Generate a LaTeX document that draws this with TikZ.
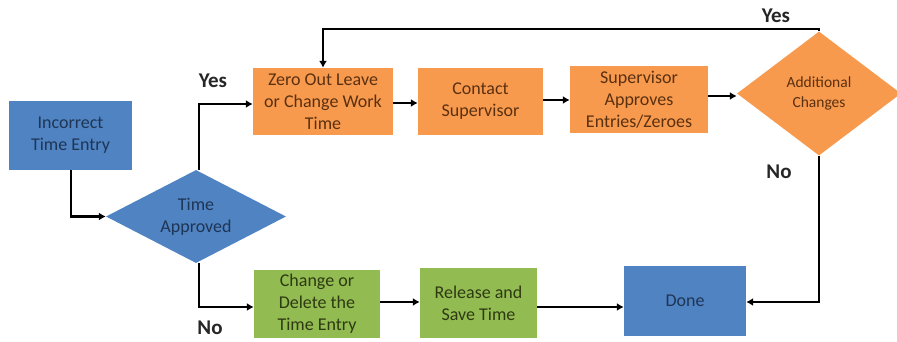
\documentclass[tikz,border=0pt]{standalone}
\usepackage{fontspec}
\setmainfont{Carlito}
\usetikzlibrary{arrows.meta,positioning,shapes.geometric}
\definecolor{flowblue}{HTML}{5083C2}
\definecolor{floworange}{HTML}{F89A4E}
\definecolor{flowgreen}{HTML}{92BB52}
\definecolor{txtblue}{HTML}{1E3555}
\definecolor{txtorange}{HTML}{5A3010}
\definecolor{txtgreen}{HTML}{2E3A12}
\tikzset{
  fc/box/.style={rectangle, inner sep=2pt, align=center, font=\fontsize{18}{22}\selectfont},
  fc/blue/.style={fc/box, fill=flowblue, text=txtblue},
  fc/orange/.style={fc/box, fill=floworange, text=txtorange},
  fc/green/.style={fc/box, fill=flowgreen, text=txtgreen},
  fc/decision/.style={diamond, inner sep=0pt, align=center},
  fc/line/.style={line width=2.8pt, -{Latex[length=7pt,width=8pt]}},
  fc/label/.style={font=\bfseries\fontsize{21}{24}\selectfont, text=black!85}
}
\begin{document}
\begin{tikzpicture}[x=1pt, y=-1pt]
  \useasboundingbox (0,0) rectangle (897,341);

  % Start and first decision
  \node[fc/blue, minimum width=123pt, minimum height=69pt] (entry) at (70.5,135.5) {Incorrect\\Time Entry};
  \node[fc/decision, aspect=2.2, fill=flowblue, text=txtblue, minimum width=180pt, minimum height=93pt,
        font=\fontsize{18}{22}\selectfont] (appr) at (196,216.5) {Time\\Approved};

  % Yes branch (orange)
  \node[fc/orange, minimum width=140pt, minimum height=67pt] (zero) at (323,101.5) {Zero Out Leave\\or Change Work\\Time};
  \node[fc/orange, minimum width=125pt, minimum height=67pt] (contact) at (480.5,101.5) {Contact\\Supervisor};
  \node[fc/orange, minimum width=138pt, minimum height=67pt] (sup) at (639,99.5) {Supervisor\\Approves\\Entries/Zeroes};
  \node[fc/decision, aspect=1.4, fill=floworange, text=txtorange, minimum width=164pt, minimum height=124pt,
        font=\fontsize{15.5}{20}\selectfont] (addl) at (819,93.5) {Additional\\Changes};

  % No branch (green)
  \node[fc/green, minimum width=126pt, minimum height=68pt] (chg) at (317,304) {Change or\\Delete the\\Time Entry};
  \node[fc/green, minimum width=117pt, minimum height=70pt] (rel) at (478.5,303) {Release and\\Save Time};
  \node[fc/blue, minimum width=122pt, minimum height=70pt] (done) at (685,301) {Done};

  \coordinate (startbend) at (71,216.5);
  \coordinate (yesbend) at (199,104);
  \coordinate (nobend) at (199,307);
  \coordinate (loopR) at (819,29);
  \coordinate (loopL) at (323,29);
  \coordinate (endbend) at (819,302);

  \draw[fc/line] (entry.south -| startbend) -- (startbend) -- (appr.west);
  \draw[fc/line] (appr.north -| yesbend) -- (yesbend) -- (yesbend -| zero.west);
  \draw[fc/line] (appr.south -| nobend) -- (nobend) -- (nobend -| chg.west);
  \draw[fc/line] (zero.east |- 0,103) -- (contact.west |- 0,103);
  \draw[fc/line] (contact.east |- 0,100) -- (sup.west |- 0,100);
  \draw[fc/line] (sup.east |- 0,96) -- (addl.west |- 0,96);
  \draw[fc/line] (addl.north) -- (loopR) -- (loopL) -- (zero.north);
  \draw[fc/line] (addl.south) -- (endbend) -- (endbend -| done.east);
  \draw[fc/line] (chg.east |- 0,302) -- (rel.west |- 0,302);
  \draw[fc/line] (rel.east |- 0,307) -- (done.west |- 0,307);

  \node[fc/label] (yes1) at (213,81) {Yes};
  \node[fc/label] (no1) at (210,328) {No};
  \node[fc/label] (yes2) at (776,16) {Yes};
  \node[fc/label] (no2) at (779,172) {No};
\end{tikzpicture}
\end{document}
